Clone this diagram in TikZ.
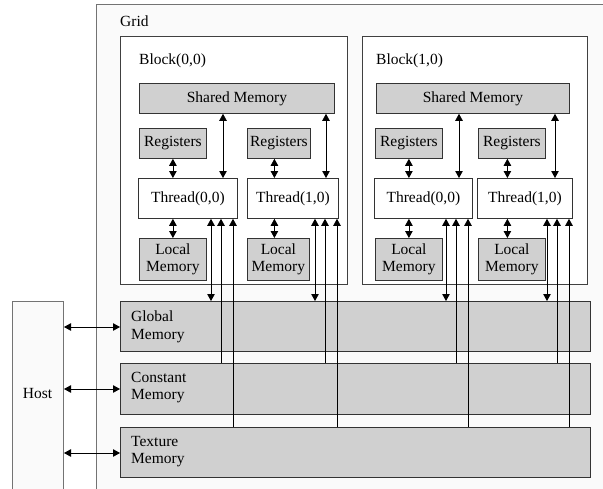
\documentclass[tikz,border=0pt]{standalone}
\usepackage{fontspec}
\setmainfont{Liberation Serif}
\usetikzlibrary{arrows.meta}
\definecolor{memfill}{HTML}{D0D0D0}
\definecolor{bgfill}{HTML}{FAFAFA}
\begin{document}
\begin{tikzpicture}[x=1pt,y=-1pt,
  txt/.style={font=\fontsize{15.5}{17.5}\selectfont},
  plainbox/.style={draw=black!80,line width=0.8pt,fill=white,anchor=north west,inner sep=0pt,txt},
  membox/.style={plainbox,fill=memfill},
  blockbox/.style={draw=black!75,line width=0.8pt,fill=white,anchor=north west,inner sep=0pt},
  memlabel/.style={anchor=north west,inner sep=0pt,align=left,txt},
  conn/.style={line width=0.8pt,draw=black},
  dbl/.style={conn,{Triangle[length=7pt,width=7.5pt]}-{Triangle[length=7pt,width=7.5pt]}},
  upa/.style={conn,{Triangle[length=7pt,width=7.5pt]}-},
]
\useasboundingbox (0,0) rectangle (603,488);
\fill[white] (0,0) rectangle (603,488);
% Grid
\node[draw=black!55,line width=1.4pt,fill=bgfill,anchor=north west,minimum width=540pt,minimum height=520pt,inner sep=0pt] (grid) at (96,4) {};
\node[anchor=base west,inner sep=0pt,txt] (gridlbl) at (120,26) {Grid};
% Host
\node[draw=black!55,line width=1pt,fill=bgfill,anchor=north west,minimum width=51pt,minimum height=220pt,inner sep=0pt] (host) at (12,301) {};
\node[txt,inner sep=0pt] (hostlbl) at (37.5,393) {Host};
% Blocks
\node[blockbox,minimum width=227pt,minimum height=248pt] (blk0) at (120,36) {};
\node[blockbox,minimum width=225pt,minimum height=248pt] (blk1) at (362,36) {};
\node[anchor=base west,inner sep=0pt,txt] (blk0lbl) at (139,64) {Block(0,0)};
\node[anchor=base west,inner sep=0pt,txt] (blk1lbl) at (376,64) {Block(1,0)};
% Shared memory
\node[membox,minimum width=195pt,minimum height=30pt] (sh0) at (139,83) {Shared Memory};
\node[membox,minimum width=193pt,minimum height=30pt] (sh1) at (376,83) {Shared Memory};
% Registers
\node[membox,minimum width=67pt,minimum height=30pt] (r00) at (139,128) {Registers};
\node[membox,minimum width=63pt,minimum height=30pt] (r01) at (247,128) {Registers};
\node[membox,minimum width=67pt,minimum height=30pt] (r10) at (375,128) {Registers};
\node[membox,minimum width=67pt,minimum height=30pt] (r11) at (478,128) {Registers};
% Threads
\node[plainbox,minimum width=99pt,minimum height=40pt] (t00) at (138,178) {Thread(0,0)};
\node[plainbox,minimum width=91pt,minimum height=40pt] (t01) at (247,178) {Thread(1,0)};
\node[plainbox,minimum width=98pt,minimum height=40pt] (t10) at (374,178) {Thread(0,0)};
\node[plainbox,minimum width=95pt,minimum height=40pt] (t11) at (477,178) {Thread(1,0)};
% Local memory
\node[membox,minimum width=67pt,minimum height=42pt,align=center] (l00) at (139,238) {Local\\Memory};
\node[membox,minimum width=62pt,minimum height=42pt,align=center] (l01) at (247,238) {Local\\Memory};
\node[membox,minimum width=67pt,minimum height=42pt,align=center] (l10) at (375,238) {Local\\Memory};
\node[membox,minimum width=67pt,minimum height=42pt,align=center] (l11) at (478,238) {Local\\Memory};
% Device memories
\node[membox,minimum width=470pt,minimum height=50pt] (gm) at (120,301) {};
\node[membox,minimum width=470pt,minimum height=51pt] (cm) at (120,363) {};
\node[membox,minimum width=470pt,minimum height=50pt] (tm) at (120,427) {};
\node[memlabel] (gmlbl) at ([shift={(11,10)}]gm.north west) {Global\\Memory};
\node[memlabel] (cmlbl) at ([shift={(11,9)}]cm.north west) {Constant\\Memory};
\node[memlabel] (tmlbl) at ([shift={(11,9)}]tm.north west) {Texture\\Memory};
% x positions of vertical connectors
\coordinate (s00) at (223,0); \coordinate (s01) at (326,0);
\coordinate (s10) at (459,0); \coordinate (s11) at (555,0);
\coordinate (g00) at (211,0); \coordinate (c00) at (221,0); \coordinate (x00) at (233,0);
\coordinate (g01) at (315,0); \coordinate (c01) at (325,0); \coordinate (x01) at (337,0);
\coordinate (g10) at (446,0); \coordinate (c10) at (456,0); \coordinate (x10) at (468,0);
\coordinate (g11) at (547,0); \coordinate (c11) at (557,0); \coordinate (x11) at (569,0);
% registers <-> threads, threads <-> local
\foreach \a/\b in {r00/t00,r10/t10} {\draw[dbl] (\a.south) -- (\a.south |- \b.north);}
\draw[dbl] ([xshift=-4.5pt]r01.south) -- ([xshift=-4.5pt]r01.south |- t01.north);
\draw[dbl] ([xshift=-4.5pt]r11.south) -- ([xshift=-4.5pt]r11.south |- t11.north);
\draw[dbl] (t00.south -| l00.north) -- (l00.north);
\draw[dbl] (t01.south -| r01.south) ++(-4.5,0) -- ([xshift=-4.5pt]r01.south |- l01.north);
\draw[dbl] (t10.south -| l10.north) -- (l10.north);
\draw[dbl] (t11.south -| r11.south) ++(-4.5,0) -- ([xshift=-4.5pt]r11.south |- l11.north);
% shared <-> threads
\foreach \s/\t/\x in {sh0/t00/s00,sh0/t01/s01,sh1/t10/s10,sh1/t11/s11}
  {\draw[dbl] (\s.south -| \x) -- (\t.north -| \x);}
% threads <-> global, constant, texture
\foreach \t/\i in {t00/00,t01/01,t10/10,t11/11} {
  \draw[dbl] (\t.south -| g\i) -- (gm.north -| g\i);
  \draw[upa] (\t.south -| c\i) -- (cm.north -| c\i);
  \draw[upa] (\t.south -| x\i) -- (tm.north -| x\i);
}
% host <-> memories
\draw[dbl] (host.east |- 0,327) -- (gm.west |- 0,327);
\draw[dbl] (host.east |- 0,389) -- (cm.west |- 0,389);
\draw[dbl] (host.east |- 0,453) -- (tm.west |- 0,453);
\end{tikzpicture}
\end{document}
